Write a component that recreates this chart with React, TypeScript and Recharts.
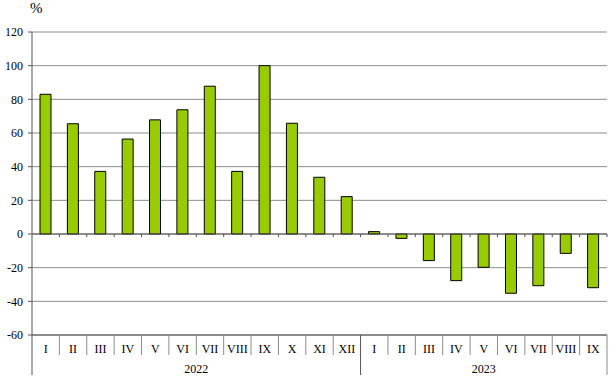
import React from 'react';
import { BarChart, Bar, XAxis, YAxis, CartesianGrid, ReferenceLine } from 'recharts';

// Months (roman numerals) and their values, in order
const months2022: string[] = ['I', 'II', 'III', 'IV', 'V', 'VI', 'VII', 'VIII', 'IX', 'X', 'XI', 'XII'];
const values2022: number[] = [83, 65.5, 37.2, 56.4, 67.8, 73.8, 87.8, 37.2, 100, 65.8, 33.7, 22.2];

const months2023: string[] = ['I', 'II', 'III', 'IV', 'V', 'VI', 'VII', 'VIII', 'IX'];
const values2023: number[] = [1.4, -2.6, -15.8, -27.7, -19.8, -35.2, -30.7, -11.5, -31.9];

const years: string[] = ['2022', '2023'];
const yTicks: number[] = [-60, -40, -20, 0, 20, 40, 60, 80, 100, 120];

interface Row {
  key: string;
  month: string;
  year: string;
  value: number;
  groupStart: boolean;
  groupLen: number;
}

const buildRows = (): Row[] => {
  const rows: Row[] = [];
  const groups = [
    { year: years[0], months: months2022, values: values2022 },
    { year: years[1], months: months2023, values: values2023 },
  ];
  groups.forEach((g) => {
    g.months.forEach((m, i) => {
      rows.push({
        key: `${g.year}-${m}`,
        month: m,
        year: g.year,
        value: g.values[i],
        groupStart: i === 0,
        groupLen: g.months.length,
      });
    });
  });
  return rows;
};

const data = buildRows();

const FONT = '"Liberation Serif", "Times New Roman", serif';
const GRID = '#8c8c8c';
const AXIS = '#555555';

const MonthTick = (props: any) => {
  const { x, y, payload, index } = props;
  const half = payload && payload.offset ? payload.offset : 575 / data.length / 2;
  const row = data[index];
  const left = x - half;
  return (
    <g>
      <line x1={left} y1={y} x2={left} y2={y + (row.groupStart ? 40 : 20)} stroke={row.groupStart ? AXIS : GRID} />
      <text x={x} y={y + 18} textAnchor="middle" fontFamily={FONT} fontSize={12} fill="#000">
        {row.month}
      </text>
      {row.groupStart && (
        <text x={left + row.groupLen * half} y={y + 38} textAnchor="middle" fontFamily={FONT} fontSize={12} fill="#000">
          {row.year}
        </text>
      )}
      {index === data.length - 1 && (
        <line x1={x + half} y1={y} x2={x + half} y2={y + 40} stroke={GRID} />
      )}
    </g>
  );
};

// zero line with small ticks at category boundaries
const ZeroLine = (props: any) => {
  const { x1, x2, y1 } = props;
  const step = (x2 - x1) / data.length;
  return (
    <g>
      <line x1={x1} y1={y1} x2={x2} y2={y1} stroke={AXIS} />
      {data.map((d, i) => (
        <line key={d.key} x1={x1 + (i + 1) * step} y1={y1} x2={x1 + (i + 1) * step} y2={y1 + 3} stroke={AXIS} />
      ))}
    </g>
  );
};

const App: React.FC = () => {
  return (
    <div style={{ position: 'absolute', left: 0, top: 0, width: 616, height: 390, background: '#fff' }}>
      <span
        style={{ position: 'absolute', left: 30, top: 0, fontFamily: FONT, fontSize: 15, color: '#000' }}
      >
        %
      </span>
      <BarChart
        width={616}
        height={390}
        data={data}
        margin={{ top: 32, right: 9, bottom: 15, left: 0 }}
      >
        <CartesianGrid horizontal vertical={false} stroke={GRID} />
        <XAxis
          dataKey="key"
          interval={0}
          height={40}
          tickLine={false}
          tickSize={0}
          tickMargin={0}
          axisLine={{ stroke: AXIS }}
          tick={<MonthTick />}
        />
        <YAxis
          domain={[-60, 120]}
          ticks={yTicks}
          interval={0}
          width={32}
          tickSize={4}
          tickMargin={5}
          axisLine={{ stroke: AXIS }}
          tickLine={{ stroke: AXIS }}
          tick={{ fontFamily: FONT, fontSize: 12, fill: '#000' }}
        />
        <YAxis
          yAxisId="right"
          orientation="right"
          domain={[-60, 120]}
          width={0}
          tick={false}
          tickLine={false}
          axisLine={{ stroke: '#999' }}
        />
        <ReferenceLine y={0} shape={<ZeroLine />} />
        <Bar dataKey="value" fill="#99cc00" stroke="#000" strokeWidth={1} barSize={11} isAnimationActive={false} />
      </BarChart>
    </div>
  );
};

export default App;
